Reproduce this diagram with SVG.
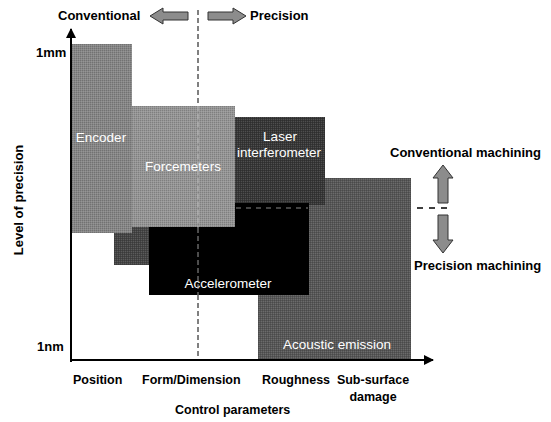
<svg xmlns="http://www.w3.org/2000/svg" width="551" height="422" viewBox="0 0 551 422">
<defs>
<style>
text{font-family:"Liberation Sans",Arial,sans-serif;font-size:13px;fill:#000;font-weight:bold}
.in{fill:#fff;font-weight:normal;font-size:13.5px}
.ax{font-size:12.5px}
.mid{text-anchor:middle}
.fat{fill:#8c8c8c;stroke:#333;stroke-width:1}
</style>
<marker id="ah" viewBox="0 0 10 10" refX="9" refY="5" markerWidth="10" markerHeight="10" markerUnits="userSpaceOnUse" orient="auto">
<path d="M0,0 L10,5 L0,10 z" fill="#000"/>
</marker>
<pattern id="dith" width="2" height="2" patternUnits="userSpaceOnUse">
<rect width="1" height="1" fill="#000" fill-opacity="0.15"/>
<rect x="1" y="1" width="1" height="1" fill="#fff" fill-opacity="0.12"/>
</pattern>
</defs>
<g id="acoustic"><rect x="258" y="178" width="153" height="182" fill="#575757"/><rect x="258" y="178" width="153" height="182" fill="url(#dith)"/><text class="in mid" x="337" y="349">Acoustic emission</text></g>
<g id="laser"><rect x="235" y="117" width="90" height="88" fill="#363636"/><rect x="235" y="117" width="90" height="88" fill="url(#dith)"/><text class="in mid" x="280" y="141">Laser</text><text class="in mid" x="279" y="157">interferometer</text></g>
<g id="dark-block"><rect x="114" y="215" width="50" height="50" fill="#444"/><rect x="114" y="215" width="50" height="50" fill="url(#dith)"/></g>
<g id="accelerometer"><rect x="149" y="203" width="160" height="92" fill="#000"/><text class="in mid" x="228" y="288">Accelerometer</text></g>
<g id="encoder"><rect x="72" y="44" width="60" height="189" fill="#868686"/><rect x="72" y="44" width="60" height="189" fill="url(#dith)"/><text class="in mid" x="101" y="142">Encoder</text></g>
<g id="forcemeters"><rect x="132" y="106" width="103" height="121" fill="#959595"/><rect x="132" y="106" width="103" height="121" fill="url(#dith)"/><text class="in mid" x="183" y="171">Forcemeters</text></g>
<g id="connectors">
<line x1="71" y1="362" x2="71" y2="29" stroke="#000" stroke-width="2" marker-end="url(#ah)"/>
<line x1="70" y1="360" x2="433" y2="360" stroke="#000" stroke-width="2" marker-end="url(#ah)"/>
<line x1="198" y1="10" x2="198" y2="106" stroke="#000" stroke-width="1" stroke-dasharray="5,3"/>
<line x1="198" y1="106" x2="198" y2="228" stroke="#bbb" stroke-width="1" stroke-dasharray="5,3"/>
<line x1="198" y1="228" x2="198" y2="295" stroke="#999" stroke-width="1" stroke-dasharray="5,3"/>
<line x1="198" y1="295" x2="198" y2="360" stroke="#000" stroke-width="1" stroke-dasharray="5,3"/>
<line x1="236" y1="208" x2="308" y2="208" stroke="#888" stroke-width="1" stroke-dasharray="5,5"/>
<line x1="417" y1="208" x2="453" y2="208" stroke="#000" stroke-width="1.5" stroke-dasharray="6,6"/>
<path class="fat" d="M188,12 L163,12 L163,8 L150,16 L163,24 L163,20 L188,20 z"/>
<path class="fat" d="M208,12 L233,12 L233,8 L246,16 L233,24 L233,20 L208,20 z"/>
<path class="fat" d="M438,203 L438,178 L433,178 L443,165 L453,178 L448,178 L448,203 z"/>
<path class="fat" d="M438,215 L438,240 L433,240 L443,253 L453,240 L448,240 L448,215 z"/>
</g>
<g id="labels">
<text x="58" y="20">Conventional</text>
<text x="250" y="20">Precision</text>
<text x="36" y="57">1mm</text>
<text x="37" y="351">1nm</text>
<text class="mid" transform="translate(23,200) rotate(-90)">Level of precision</text>
<text class="ax" x="73" y="384">Position</text>
<text class="ax" x="142" y="384">Form/Dimension</text>
<text class="ax" x="262" y="384">Roughness</text>
<text class="ax mid" x="373" y="384">Sub-surface</text>
<text class="ax mid" x="373" y="401">damage</text>
<text class="ax" x="175" y="414">Control parameters</text>
<text x="390" y="157">Conventional machining</text>
<text x="414" y="270">Precision machining</text>
</g>
</svg>
